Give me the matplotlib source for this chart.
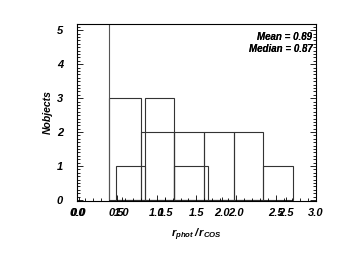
import matplotlib
matplotlib.use("Agg")
import matplotlib.pyplot as plt
from matplotlib.ticker import MultipleLocator
from matplotlib.transforms import ScaledTranslation

# ---- data ----
edges_a = [0.40, 0.81, 1.22, 1.60, 1.97, 2.33]
counts_a = [3, 2, 2, 2, 2]
edges_b = [0.49, 0.86, 1.22, 1.64, 1.97, 2.33, 2.71]
counts_b = [1, 3, 1, 0, 0, 1]
spike_x = [0.40]

xticks_a = [0.0, 0.5, 1.0, 1.5, 2.0, 2.5, 3.0]
xlabels_a = ["0.0", "0.5", "1.0", "1.5", "2.0", "2.5", "3.0"]
xticks_b = [0.02, 0.56, 1.11, 1.82, 2.62]
xlabels_b = ["0.0", "1.0", "1.5", "2.0", "2.5"]
yticks = [0, 1, 2, 3, 4, 5]

stats_1 = ["Mean = 0.89", "Median = 0.87"]
stats_2 = ["Mean = 0.69", "Median = 0.57"]

plt.rcParams['font.family'] = ['Liberation Sans', 'DejaVu Sans']
plt.rcParams['mathtext.fontset'] = 'custom'
plt.rcParams['mathtext.it'] = 'Liberation Sans:italic:bold'
plt.rcParams['mathtext.rm'] = 'Liberation Sans:italic:bold'

fig = plt.figure(figsize=(3.46, 2.68), dpi=100)
ax = fig.add_axes([0.2225, 0.25, 0.6905, 0.66])
ax.set_xlim(0, 3.0)
ax.set_ylim(-0.03, 5.18)

lw = 0.8
def draw_hist(edges, counts):
    lefts = edges[:-1]
    widths = [edges[i + 1] - edges[i] for i in range(len(counts))]
    ax.bar(lefts, counts, width=widths, align='edge', fill=False,
           edgecolor='#333333', linewidth=lw)

draw_hist(edges_a, counts_a)
draw_hist(edges_b, counts_b)
ax.vlines(spike_x, 0, 5.18, color='#555555', linewidth=lw)

tickfont = dict(fontsize=8, fontweight='bold', fontstyle='italic')
ax.set_xticks(xticks_a)
ax.set_xticklabels(xlabels_a, **tickfont)
shift = ScaledTranslation(2.5 / 100, 0, fig.dpi_scale_trans)
for lab in ax.get_xticklabels():
    lab.set_transform(lab.get_transform() + shift)
ax.xaxis.set_minor_locator(MultipleLocator(0.1))
ax.set_yticks(yticks)
ax.set_yticklabels([str(v) for v in yticks], **tickfont)
ax.yaxis.set_minor_locator(MultipleLocator(0.1))
ax.tick_params(which='both', direction='in', top=True, right=True, width=0.6)
ax.tick_params(which='major', length=4)
ax.tick_params(which='minor', length=2)
ax.tick_params(axis='x', pad=5)
ax.tick_params(axis='y', pad=10)

ax2 = ax.twiny()
ax2.set_xlim(ax.get_xlim())
ax2.xaxis.set_ticks_position('bottom')
ax2.xaxis.set_label_position('bottom')
ax2.set_xticks(xticks_b)
ax2.set_xticklabels(xlabels_b, **tickfont)
ax2.tick_params(axis='x', direction='in', length=3, width=0.6, pad=5)
for s in ax2.spines.values():
    s.set_visible(False)

for s in ax.spines.values():
    s.set_linewidth(0.8)

ax.set_ylabel("Nobjects", fontsize=7.5, fontweight='bold', fontstyle='italic', labelpad=3)
ax.set_xlabel(r"$r_{phot}\,/\,r_{COS}$", fontsize=8, labelpad=6)

for i, (t1, t2) in enumerate(zip(stats_1, stats_2)):
    for t in (t1, t2):
        ax.text(0.985, 0.93 - i * 0.072, t, transform=ax.transAxes, ha='right', va='center',
                fontsize=7, fontweight='bold', fontstyle='italic')

fig.savefig("out.png", dpi=100)
